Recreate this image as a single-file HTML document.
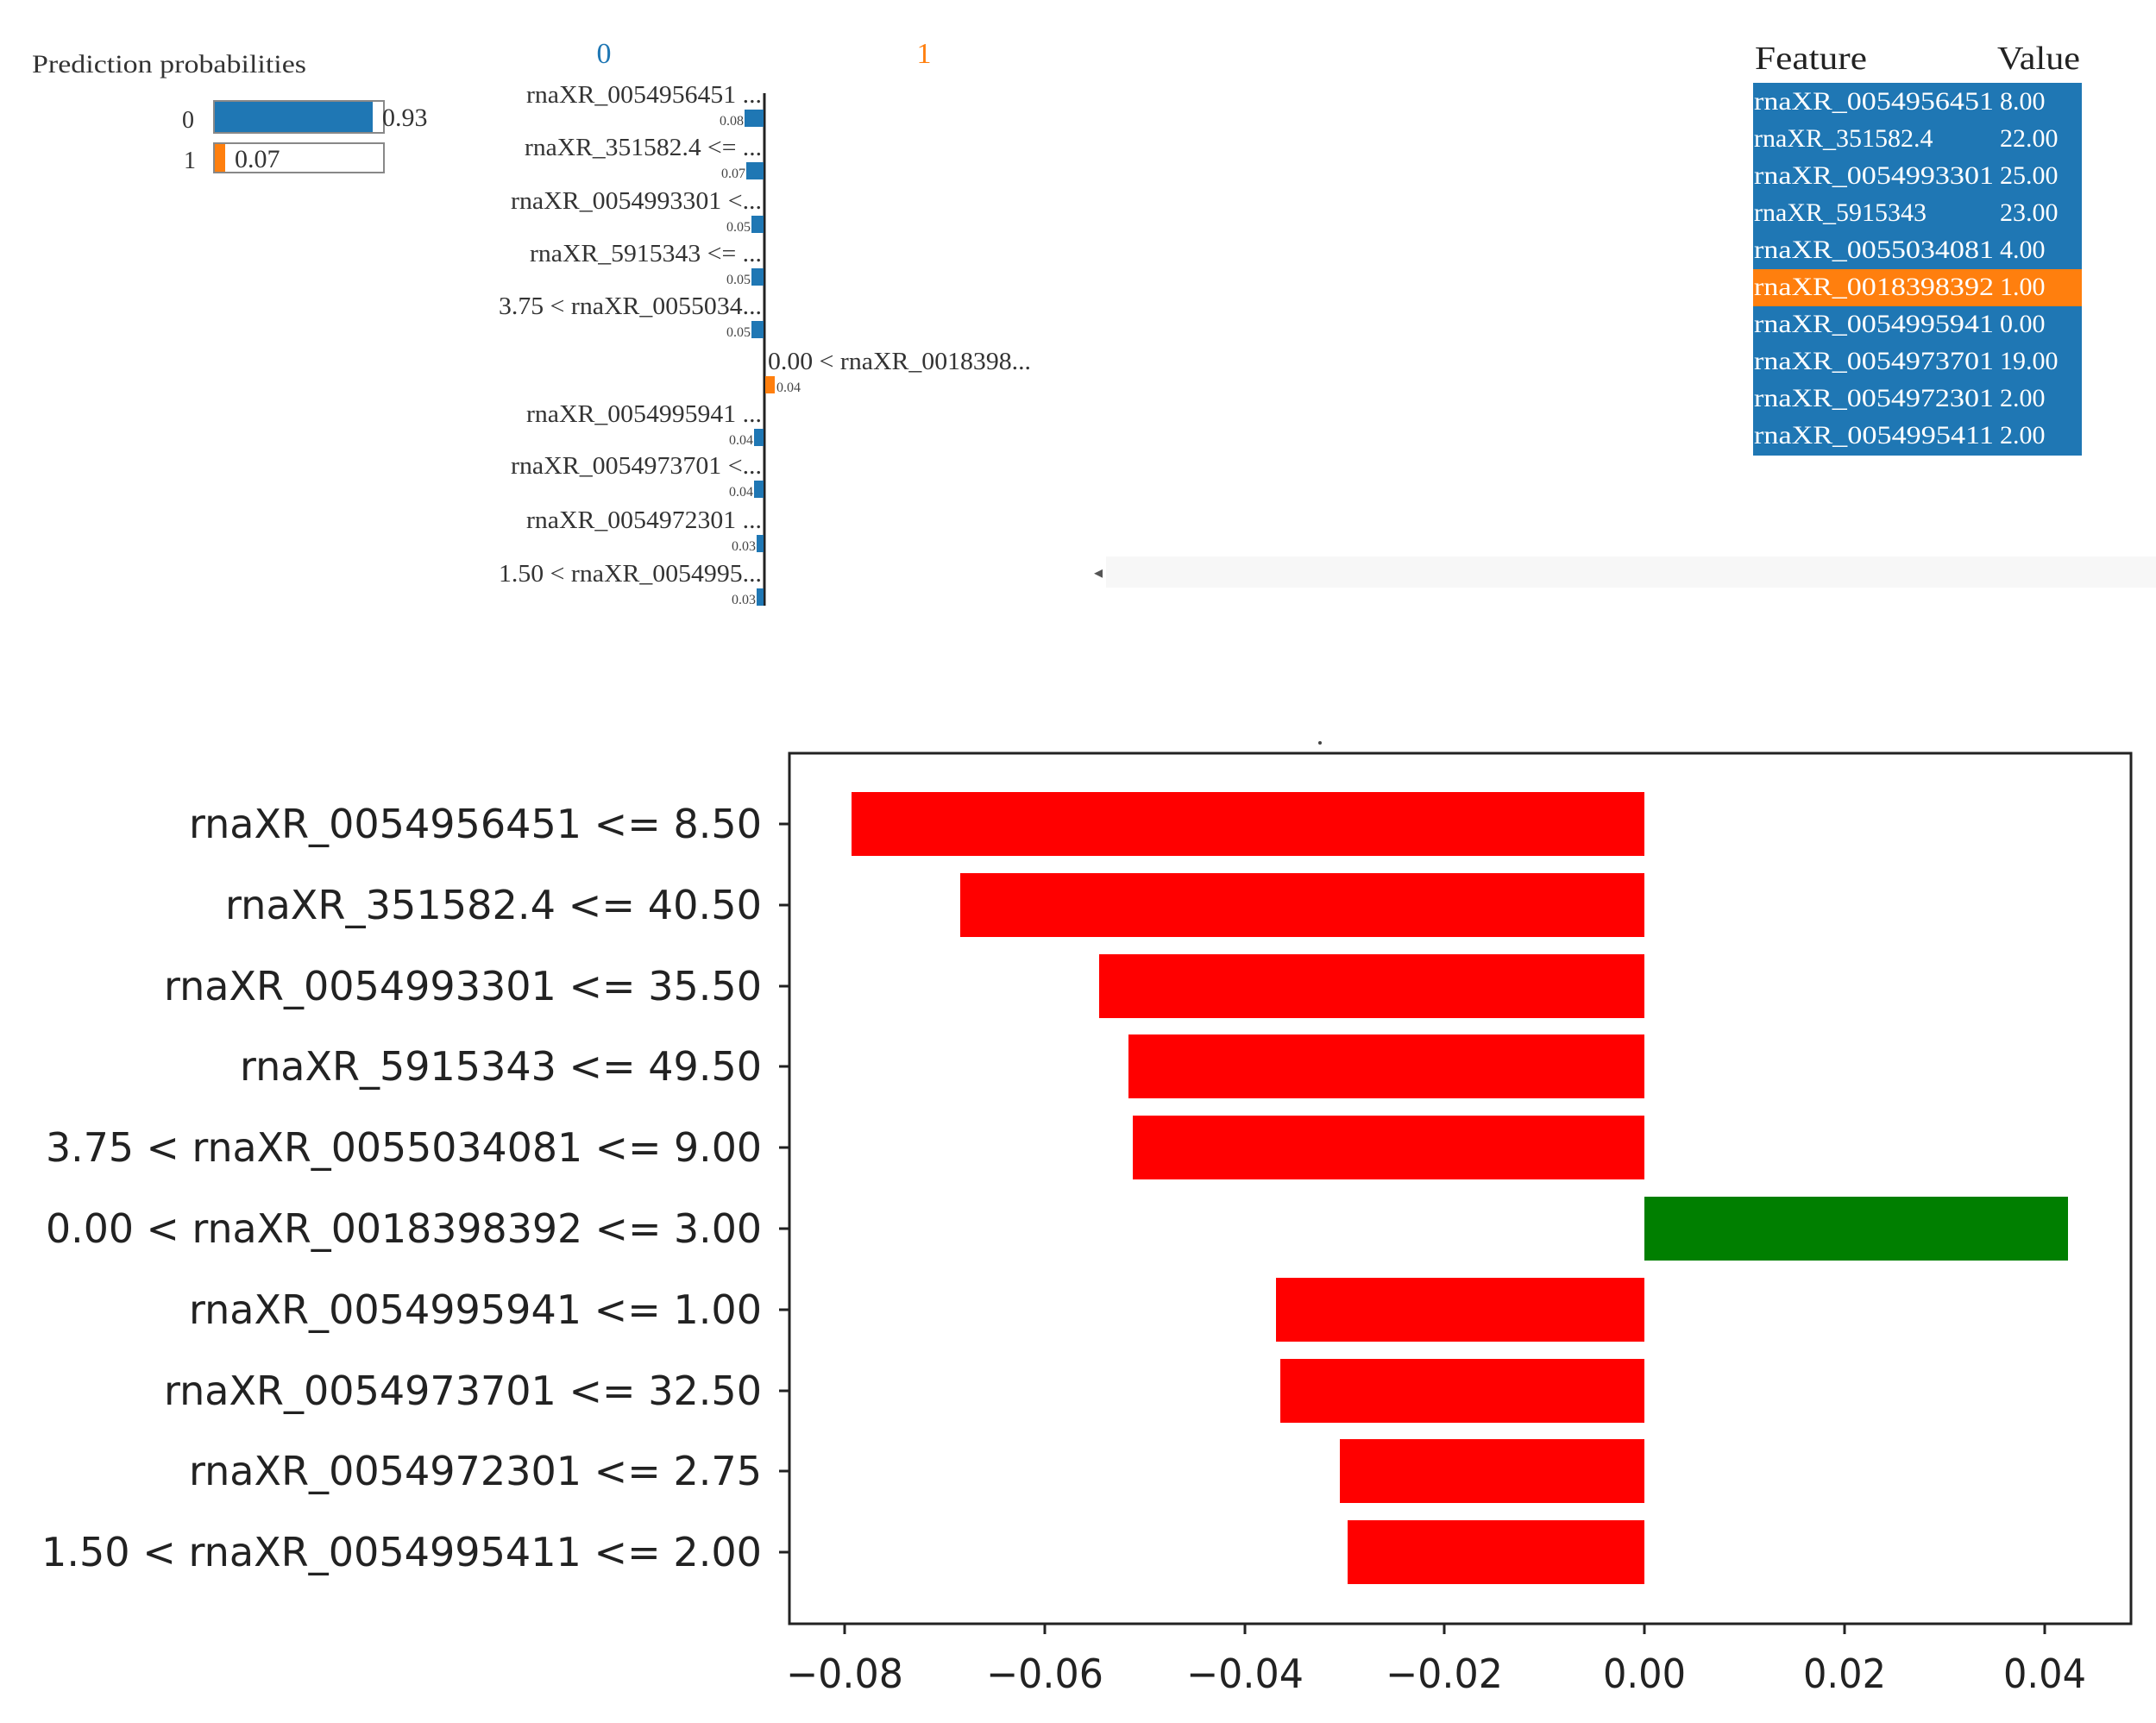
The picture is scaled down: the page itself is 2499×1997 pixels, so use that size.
<!DOCTYPE html>
<html><head><meta charset="utf-8"><style>
html,body{margin:0;padding:0;background:#fff;}
svg{display:block;}
.ser{font-family:"Liberation Serif",serif;}
.sans{font-family:"DejaVu Sans","Liberation Sans",sans-serif;}
</style></head><body>
<svg width="2499" height="1997" viewBox="0 0 2499 1997" xmlns="http://www.w3.org/2000/svg">
<rect width="2499" height="1997" fill="#fff"/>
<g class="ser" fill="#333">
<text x="37" y="84" font-size="30" textLength="318" lengthAdjust="spacingAndGlyphs">Prediction probabilities</text>
<text x="211" y="148" font-size="28">0</text>
<text x="213" y="195" font-size="28">1</text>
</g>
<rect x="248" y="117" width="197" height="37" fill="#fff" stroke="#888" stroke-width="2"/>
<rect x="249" y="118" width="183" height="35" fill="#1f77b4"/>
<text class="ser" x="443" y="146" font-size="30" fill="#333">0.93</text>
<rect x="248" y="166" width="197" height="34" fill="#fff" stroke="#888" stroke-width="2"/>
<rect x="249" y="167" width="12" height="32" fill="#ff7f0e"/>
<text class="ser" x="272" y="194" font-size="30" fill="#333">0.07</text>
<text class="ser" x="700" y="73" font-size="34" fill="#1f77b4" text-anchor="middle">0</text>
<text class="ser" x="1071" y="73" font-size="34" fill="#ff7f0e" text-anchor="middle">1</text>
<line x1="886" y1="108" x2="886" y2="702" stroke="#222" stroke-width="3"/>
<g class="ser" font-size="29" fill="#333" text-anchor="end">
<text x="883" y="119" textLength="273" lengthAdjust="spacingAndGlyphs">rnaXR_0054956451 ...</text>
<text x="883" y="180" textLength="275" lengthAdjust="spacingAndGlyphs">rnaXR_351582.4 &lt;= ...</text>
<text x="883" y="242" textLength="291" lengthAdjust="spacingAndGlyphs">rnaXR_0054993301 &lt;...</text>
<text x="883" y="303" textLength="269" lengthAdjust="spacingAndGlyphs">rnaXR_5915343 &lt;= ...</text>
<text x="883" y="364" textLength="305" lengthAdjust="spacingAndGlyphs">3.75 &lt; rnaXR_0055034...</text>
<text x="883" y="489" textLength="273" lengthAdjust="spacingAndGlyphs">rnaXR_0054995941 ...</text>
<text x="883" y="549" textLength="291" lengthAdjust="spacingAndGlyphs">rnaXR_0054973701 &lt;...</text>
<text x="883" y="612" textLength="273" lengthAdjust="spacingAndGlyphs">rnaXR_0054972301 ...</text>
<text x="883" y="674" textLength="305" lengthAdjust="spacingAndGlyphs">1.50 &lt; rnaXR_0054995...</text>
</g>
<text class="ser" x="890" y="428" font-size="29" fill="#333" textLength="305" lengthAdjust="spacingAndGlyphs">0.00 &lt; rnaXR_0018398...</text>
<g fill="#1f77b4">
<rect x="863" y="127" width="22" height="20"/>
<rect x="865" y="188" width="20" height="20"/>
<rect x="871" y="250" width="14" height="20"/>
<rect x="871" y="311" width="14" height="20"/>
<rect x="871" y="372" width="14" height="20"/>
<rect x="874" y="497" width="11" height="20"/>
<rect x="874" y="557" width="11" height="20"/>
<rect x="877" y="620" width="8" height="20"/>
<rect x="877" y="682" width="8" height="20"/>
</g>
<rect x="887" y="436" width="11" height="20" fill="#ff7f0e"/>
<g class="ser" font-size="16" fill="#444" text-anchor="end">
<text x="862" y="145">0.08</text><text x="864" y="206">0.07</text>
<text x="870" y="268">0.05</text><text x="870" y="329">0.05</text>
<text x="870" y="390">0.05</text><text x="873" y="515">0.04</text>
<text x="873" y="575">0.04</text><text x="876" y="638">0.03</text>
<text x="876" y="700">0.03</text>
</g>
<text class="ser" x="900" y="454" font-size="16" fill="#444">0.04</text>
<rect x="1282" y="645" width="1217" height="36" fill="#f7f7f7"/>
<text x="1268" y="670" font-size="20" fill="#555">◂</text>
<g class="ser" font-size="38" fill="#222">
<text x="2034" y="80" textLength="130" lengthAdjust="spacingAndGlyphs">Feature</text>
<text x="2315" y="80" textLength="96" lengthAdjust="spacingAndGlyphs">Value</text>
</g>
<rect x="2032" y="96" width="381" height="432" fill="#1f77b4"/>
<rect x="2032" y="312" width="381" height="43" fill="#ff7f0e"/>
<g class="ser" font-size="30" fill="#fff">
<text x="2033" y="127" textLength="278" lengthAdjust="spacingAndGlyphs">rnaXR_0054956451</text><text x="2318" y="127">8.00</text>
<text x="2033" y="170">rnaXR_351582.4</text><text x="2318" y="170">22.00</text>
<text x="2033" y="213" textLength="278" lengthAdjust="spacingAndGlyphs">rnaXR_0054993301</text><text x="2318" y="213">25.00</text>
<text x="2033" y="256">rnaXR_5915343</text><text x="2318" y="256">23.00</text>
<text x="2033" y="299" textLength="278" lengthAdjust="spacingAndGlyphs">rnaXR_0055034081</text><text x="2318" y="299">4.00</text>
<text x="2033" y="342" textLength="278" lengthAdjust="spacingAndGlyphs">rnaXR_0018398392</text><text x="2318" y="342">1.00</text>
<text x="2033" y="385" textLength="278" lengthAdjust="spacingAndGlyphs">rnaXR_0054995941</text><text x="2318" y="385">0.00</text>
<text x="2033" y="428" textLength="278" lengthAdjust="spacingAndGlyphs">rnaXR_0054973701</text><text x="2318" y="428">19.00</text>
<text x="2033" y="471" textLength="278" lengthAdjust="spacingAndGlyphs">rnaXR_0054972301</text><text x="2318" y="471">2.00</text>
<text x="2033" y="514" textLength="278" lengthAdjust="spacingAndGlyphs">rnaXR_0054995411</text><text x="2318" y="514">2.00</text>
</g>
<circle cx="1530" cy="861" r="2" fill="#444"/>
<g>
<rect x="987" y="918" width="919" height="74" fill="#ff0000"/>
<rect x="1113" y="1012" width="793" height="74" fill="#ff0000"/>
<rect x="1274" y="1106" width="632" height="74" fill="#ff0000"/>
<rect x="1308" y="1199" width="598" height="74" fill="#ff0000"/>
<rect x="1313" y="1293" width="593" height="74" fill="#ff0000"/>
<rect x="1906" y="1387" width="491" height="74" fill="#007f00"/>
<rect x="1479" y="1481" width="427" height="74" fill="#ff0000"/>
<rect x="1484" y="1575" width="422" height="74" fill="#ff0000"/>
<rect x="1553" y="1668" width="353" height="74" fill="#ff0000"/>
<rect x="1562" y="1762" width="344" height="74" fill="#ff0000"/>
</g>
<rect x="915" y="873" width="1555" height="1009" fill="none" stroke="#222" stroke-width="3"/>
<g stroke="#222" stroke-width="3">
<line x1="903" y1="955" x2="915" y2="955"/><line x1="903" y1="1049" x2="915" y2="1049"/>
<line x1="903" y1="1143" x2="915" y2="1143"/><line x1="903" y1="1236" x2="915" y2="1236"/>
<line x1="903" y1="1330" x2="915" y2="1330"/><line x1="903" y1="1424" x2="915" y2="1424"/>
<line x1="903" y1="1518" x2="915" y2="1518"/><line x1="903" y1="1612" x2="915" y2="1612"/>
<line x1="903" y1="1705" x2="915" y2="1705"/><line x1="903" y1="1799" x2="915" y2="1799"/>
<line x1="979" y1="1882" x2="979" y2="1894"/><line x1="1211" y1="1882" x2="1211" y2="1894"/>
<line x1="1443" y1="1882" x2="1443" y2="1894"/><line x1="1674" y1="1882" x2="1674" y2="1894"/>
<line x1="1906" y1="1882" x2="1906" y2="1894"/><line x1="2138" y1="1882" x2="2138" y2="1894"/>
<line x1="2370" y1="1882" x2="2370" y2="1894"/>
</g>
<g class="sans" font-size="46" fill="#222" text-anchor="end">
<text x="883" y="971" textLength="664" lengthAdjust="spacingAndGlyphs">rnaXR_0054956451 &lt;= 8.50</text>
<text x="883" y="1065" textLength="622" lengthAdjust="spacingAndGlyphs">rnaXR_351582.4 &lt;= 40.50</text>
<text x="883" y="1159" textLength="693" lengthAdjust="spacingAndGlyphs">rnaXR_0054993301 &lt;= 35.50</text>
<text x="883" y="1252" textLength="605" lengthAdjust="spacingAndGlyphs">rnaXR_5915343 &lt;= 49.50</text>
<text x="883" y="1346" textLength="830" lengthAdjust="spacingAndGlyphs">3.75 &lt; rnaXR_0055034081 &lt;= 9.00</text>
<text x="883" y="1440" textLength="830" lengthAdjust="spacingAndGlyphs">0.00 &lt; rnaXR_0018398392 &lt;= 3.00</text>
<text x="883" y="1534" textLength="664" lengthAdjust="spacingAndGlyphs">rnaXR_0054995941 &lt;= 1.00</text>
<text x="883" y="1628" textLength="693" lengthAdjust="spacingAndGlyphs">rnaXR_0054973701 &lt;= 32.50</text>
<text x="883" y="1721" textLength="664" lengthAdjust="spacingAndGlyphs">rnaXR_0054972301 &lt;= 2.75</text>
<text x="883" y="1815" textLength="835" lengthAdjust="spacingAndGlyphs">1.50 &lt; rnaXR_0054995411 &lt;= 2.00</text>
</g>
<g class="sans" font-size="46" fill="#222" text-anchor="middle">
<text x="979" y="1956" textLength="136" lengthAdjust="spacingAndGlyphs">−0.08</text>
<text x="1211" y="1956" textLength="136" lengthAdjust="spacingAndGlyphs">−0.06</text>
<text x="1443" y="1956" textLength="136" lengthAdjust="spacingAndGlyphs">−0.04</text>
<text x="1674" y="1956" textLength="136" lengthAdjust="spacingAndGlyphs">−0.02</text>
<text x="1906" y="1956" textLength="96" lengthAdjust="spacingAndGlyphs">0.00</text>
<text x="2138" y="1956" textLength="96" lengthAdjust="spacingAndGlyphs">0.02</text>
<text x="2370" y="1956" textLength="96" lengthAdjust="spacingAndGlyphs">0.04</text>
</g>
</svg>
</body></html>
